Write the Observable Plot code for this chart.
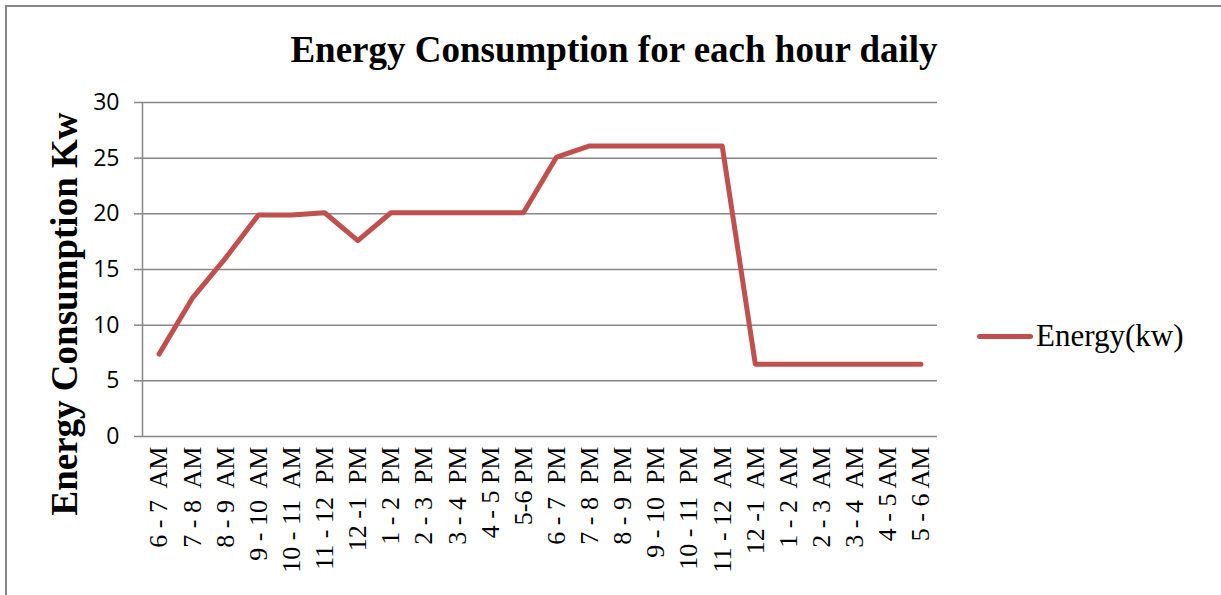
<!DOCTYPE html>
<html>
<head>
<meta charset="utf-8">
<script src="https://cdn.jsdelivr.net/npm/d3@7"></script>
<script src="https://cdn.jsdelivr.net/npm/@observablehq/plot@0.6"></script>
<style>
  html, body { margin: 0; padding: 0; background: #fff; }
  #wrap { position: relative; width: 1221px; height: 595px; overflow: hidden; background: #fff; }
  #frame { position: absolute; left: 5px; top: 5px; width: 1240px; height: 620px; border: 2px solid #888; box-sizing: border-box; }
  #title { position: absolute; left: 0; width: 1228px; top: 31px; line-height: 37px; text-align: center; font-family: "Liberation Serif", serif; font-weight: bold; font-size: 37px; color: #000; white-space: nowrap; }
  #ylabel { position: absolute; left: 64px; top: 314px; line-height: 37px; transform: translate(-50%, -50%) rotate(-90deg); white-space: nowrap; font-family: "Liberation Serif", serif; font-weight: bold; font-size: 37px; color: #000; }
  #legend { position: absolute; left: 977px; top: 318px; height: 36px; display: flex; align-items: center; font-family: "Liberation Serif", serif; font-size: 31px; color: #000; }
  #legend .sw { width: 56px; height: 5px; border-radius: 3px; background: #C0504D; margin-right: 3px; }
  #chart { position: absolute; left: 0; top: 0; }
</style>
</head>
<body>
<div id="wrap">
  <div id="frame"></div>
  <div id="chart"></div>
  <div id="title">Energy Consumption for each hour daily</div>
  <div id="ylabel">Energy Consumption Kw</div>
  <div id="legend"><div class="sw"></div><span>Energy(kw)</span></div>
</div>
<script>
const hours = [
  "6 - 7  AM", "7 - 8  AM", "8 - 9  AM", "9 - 10  AM", "10 - 11  AM", "11 - 12  PM",
  "12 -1  PM", "1 - 2  PM", "2 - 3  PM", "3 - 4  PM", "4 - 5 PM", "5-6 PM",
  "6 - 7  PM", "7 - 8  PM", "8 - 9  PM", "9 - 10  PM", "10 - 11  PM", "11 - 12  AM",
  "12 -1  AM", "1 - 2  AM", "2 - 3  AM", "3 - 4  AM", "4 - 5 AM", "5 - 6 AM"
];
const energy = [
  7.4, 12.4, 16.0, 19.9, 19.9, 20.1,
  17.6, 20.1, 20.1, 20.1, 20.1, 20.1,
  25.1, 26.1, 26.1, 26.1, 26.1, 26.1,
  6.5, 6.5, 6.5, 6.5, 6.5, 6.5
];
const yTicks = [0, 5, 10, 15, 20, 25, 30];
const seriesName = "Energy(kw)";

const data = hours.map((h, i) => ({i, hour: h, value: energy[i]}));
const idx = hours.map((h, i) => i);
const grid = "#878787";

const chart = Plot.plot({
  width: 1221,
  height: 595,
  marginLeft: 142,
  marginRight: 284,
  marginTop: 102,
  marginBottom: 159,
  style: {background: "transparent", overflow: "visible"},
  x: {type: "linear", domain: [-0.5, hours.length - 0.5]},
  y: {domain: [0, 30]},
  marks: [
    Plot.ruleY(yTicks, {y: d => d, x1: -0.5, x2: hours.length - 0.5, stroke: grid, strokeWidth: 1.5}),
    Plot.ruleX([-0.5], {y1: 0, y2: 30, stroke: grid, strokeWidth: 1.5}),
    Plot.axisY({
      ticks: yTicks, tickSize: 8, tickPadding: 15, stroke: grid, strokeWidth: 1.5,
      fill: "#000", fontSize: 23, label: null
    }),
    Plot.axisX({
      ticks: idx, tickFormat: i => hours[i].replace(/  /g, "\u00a0 "), tickSize: 0, tickPadding: 10, tickRotate: -90,
      fill: "#000", fontSize: 26, label: null
    }),
    Plot.line(data, {x: "i", y: "value", stroke: "#C0504D", strokeWidth: 5, strokeLinejoin: "round", title: () => seriesName})
  ]
});
chart.querySelectorAll("g").forEach(g => {
  const lab = g.getAttribute("aria-label") || "";
  if (lab.startsWith("x-axis tick label")) {
    g.querySelectorAll("text").forEach(t => {
      t.style.setProperty("font-family", "'Liberation Serif', 'Times New Roman', serif", "important");
      t.style.setProperty("font-size", "26px", "important");
    });
  } else if (lab.startsWith("y-axis tick label")) {
    g.querySelectorAll("text").forEach(t => {
      t.style.setProperty("font-family", "'Open Sans', sans-serif", "important");
      t.style.setProperty("font-size", "23px", "important");
    });
  }
});
document.getElementById("chart").appendChild(chart);
</script>
</body>
</html>
